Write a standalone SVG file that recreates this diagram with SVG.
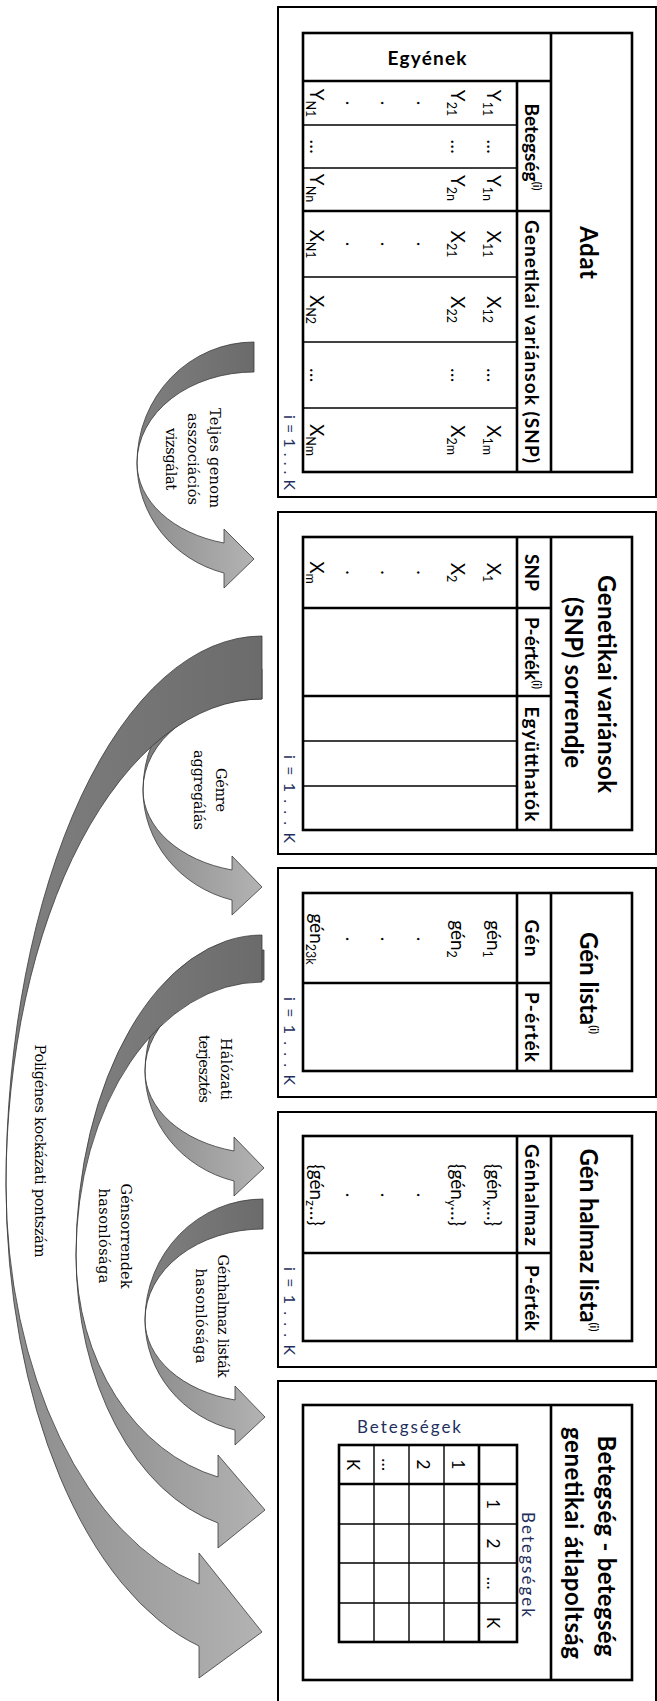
<svg xmlns="http://www.w3.org/2000/svg" width="657" height="1701" viewBox="0 0 657 1701">
  <style>
    .box { fill: #fff; stroke: #000; stroke-width: 2; }
    .tbl { fill: none; stroke: #000; stroke-width: 2.6; }
    .thick { stroke: #000; stroke-width: 2.6; fill: none; }
    .thin { stroke: #000; stroke-width: 1.4; fill: none; }
    text { font-family: Lato, "Noto Sans", "Liberation Sans", sans-serif; fill: #000; text-anchor: middle; }
    .title { font-size: 24px; font-weight: bold; }
    .hdr { font-size: 19px; font-weight: bold; }
    .dat { font-size: 19px; }
    .mx { font-size: 17px; }
    .idx { font-size: 16px; fill: #1f2f5e; text-anchor: end; }
    .blue { fill: #1f2f5e; }
    .lbl { font-family: "DejaVu Serif", "Liberation Serif", serif; font-size: 14.5px; fill: #000; }
    .sub { font-size: 12.5px; }
    .sup { font-size: 11px; }
    .back { fill: url(#gBack); stroke: #3a3a3a; stroke-width: 0.8; }
    .front { fill: url(#gFront); stroke: #3a3a3a; stroke-width: 0.8; }
  </style>
  <defs>
    <linearGradient id="gBack" x1="0" y1="0" x2="1" y2="0">
      <stop offset="0" stop-color="#808080"/>
      <stop offset="1" stop-color="#6b6b6b"/>
    </linearGradient>
    <linearGradient id="gFront" x1="0" y1="0" x2="1" y2="0">
      <stop offset="0" stop-color="#8b8b8b"/>
      <stop offset="1" stop-color="#b3b3b3"/>
    </linearGradient>
  </defs>
  <rect width="657" height="1701" fill="#fff"/>

  <!-- curved block arrows between the stages -->
  <g id="connectors">
    <!-- Génre aggregálás (tail tucked under the large arrow) -->
    <g id="arrow-genre">
      <path class="back" d="M262,669 A119,121 0 0 0 143,790 A119,91 0 0 1 262,699 Z"/>
      <path class="front" d="M143,790 A119,82.7 0 0 0 232,870 L232,856 L262,887 L232,915 L232,900 A119,113.7 0 0 1 143,790 Z"/>
    </g>
    <!-- Poligénes kockázati pontszám -->
    <g id="arrow-poligenes">
      <path class="back" d="M262,636 A256,549 0 0 0 6,1185 A256,486 0 0 1 262,699 Z"/>
      <path class="front" d="M6,1185 A256,411.8 0 0 0 199,1584 L199,1553 L262,1632 L199,1678 L199,1646 A256,475.8 0 0 1 6,1185 Z"/>
    </g>
    <!-- Teljes genom asszociációs vizsgálat -->
    <g id="arrow-gwas">
      <path class="back" d="M254,342 A117,121 0 0 0 137,463 A117,91 0 0 1 254,372 Z"/>
      <path class="front" d="M137,463 A117,82.8 0 0 0 224,543 L224,529 L254,559 L224,588 L224,573 A117,113.8 0 0 1 137,463 Z"/>
    </g>
    <!-- Hálózati terjesztés (tail tucked under the medium arrow) -->
    <g id="arrow-halozati">
      <path class="back" d="M264,950 A119,121 0 0 0 145,1071 A119,91 0 0 1 264,980 Z"/>
      <path class="front" d="M145,1071 A119,82.7 0 0 0 234,1151 L234,1137 L264,1168 L234,1196 L234,1181 A119,113.7 0 0 1 145,1071 Z"/>
    </g>
    <!-- Génsorrendek hasonlósága -->
    <g id="arrow-gensorrend">
      <path class="back" d="M262,935 A186,320 0 0 0 76,1255 A186,273 0 0 1 262,982 Z"/>
      <path class="front" d="M76,1255 A186,228.5 0 0 0 218,1477 L218,1455 L265,1510 L218,1548 L218,1523 A186,275.8 0 0 1 76,1255 Z"/>
    </g>
    <!-- Génhalmaz listák hasonlósága -->
    <g id="arrow-genhalmaz">
      <path class="back" d="M263,1199 A118,121 0 0 0 145,1320 A118,91 0 0 1 263,1229 Z"/>
      <path class="front" d="M145,1320 A118,82.3 0 0 0 235,1400 L235,1386 L265,1417 L235,1445 L235,1430 A118,113.2 0 0 1 145,1320 Z"/>
    </g>

    <!-- arrow captions -->
    <g id="arrow-labels">
      <text class="lbl" transform="translate(210 458) rotate(90)" textLength="100">Teljes genom</text>
      <text class="lbl" transform="translate(188 459) rotate(90)" textLength="92">asszociációs</text>
      <text class="lbl" transform="translate(166 459) rotate(90)" textLength="62">vizsgálat</text>
      <text class="lbl" transform="translate(216 790) rotate(90)" textLength="44">Génre</text>
      <text class="lbl" transform="translate(194 790) rotate(90)" textLength="80">aggregálás</text>
      <text class="lbl" transform="translate(221 1069) rotate(90)" textLength="62">Hálózati</text>
      <text class="lbl" transform="translate(199 1069) rotate(90)" textLength="68">terjesztés</text>
      <text class="lbl" transform="translate(218 1316) rotate(90)" textLength="123">Génhalmaz listák</text>
      <text class="lbl" transform="translate(196 1316) rotate(90)" textLength="95">hasonlósága</text>
      <text class="lbl" transform="translate(121 1236) rotate(90)" textLength="105">Génsorrendek</text>
      <text class="lbl" transform="translate(99 1236) rotate(90)" textLength="95">hasonlósága</text>
      <text class="lbl" transform="translate(35 1151) rotate(90)" textLength="213">Poligénes kockázati pontszám</text>
    </g>
  </g>

  <!-- Stage 1: Adat -->
  <g id="adat">
    <rect class="box" x="278" y="7" width="378" height="490"/>
    <rect class="tbl" x="303" y="33" width="329" height="439"/>
    <line class="thick" x1="551" y1="33" x2="551" y2="472"/>
    <line class="thick" x1="303" y1="81" x2="551" y2="81"/>
    <line class="thick" x1="517" y1="81" x2="517" y2="472"/>
    <line class="thick" x1="303" y1="211" x2="551" y2="211"/>
    <line class="thin" x1="303" y1="125" x2="517" y2="125"/>
    <line class="thin" x1="303" y1="168" x2="517" y2="168"/>
    <line class="thin" x1="303" y1="277" x2="517" y2="277"/>
    <line class="thin" x1="303" y1="342" x2="517" y2="342"/>
    <line class="thin" x1="303" y1="408" x2="517" y2="408"/>
    <text class="title" transform="translate(580 252.5) rotate(90)" textLength="53">Adat</text>
    <text class="hdr" x="427" y="65" textLength="79">Egyének</text>
    <text class="hdr" transform="translate(525 147) rotate(90)">Betegség<tspan class="sup" dy="-8">(i)</tspan></text>
    <text class="hdr" transform="translate(525 341.5) rotate(90)" textLength="243">Genetikai variánsok (SNP)</text>
    <!-- first individual -->
    <text class="dat" transform="translate(487 103) rotate(90)">Y<tspan class="sub" dy="4">11</tspan></text>
    <text class="dat" transform="translate(487 146.5) rotate(90)">…</text>
    <text class="dat" transform="translate(487 188) rotate(90)">Y<tspan class="sub" dy="4">1n</tspan></text>
    <text class="dat" transform="translate(487 244) rotate(90)">X<tspan class="sub" dy="4">11</tspan></text>
    <text class="dat" transform="translate(487 309.5) rotate(90)">X<tspan class="sub" dy="4">12</tspan></text>
    <text class="dat" transform="translate(487 375) rotate(90)">…</text>
    <text class="dat" transform="translate(487 440) rotate(90)">X<tspan class="sub" dy="4">1m</tspan></text>
    <!-- second individual -->
    <text class="dat" transform="translate(451 103) rotate(90)">Y<tspan class="sub" dy="4">21</tspan></text>
    <text class="dat" transform="translate(451 146.5) rotate(90)">…</text>
    <text class="dat" transform="translate(451 188) rotate(90)">Y<tspan class="sub" dy="4">2n</tspan></text>
    <text class="dat" transform="translate(451 244) rotate(90)">X<tspan class="sub" dy="4">21</tspan></text>
    <text class="dat" transform="translate(451 309.5) rotate(90)">X<tspan class="sub" dy="4">22</tspan></text>
    <text class="dat" transform="translate(451 375) rotate(90)">…</text>
    <text class="dat" transform="translate(451 440) rotate(90)">X<tspan class="sub" dy="4">2m</tspan></text>
    <!-- vertical ellipsis dots -->
    <text class="dat" transform="translate(417 103) rotate(90)">.</text>
    <text class="dat" transform="translate(381 103) rotate(90)">.</text>
    <text class="dat" transform="translate(346 103) rotate(90)">.</text>
    <text class="dat" transform="translate(417 244) rotate(90)">.</text>
    <text class="dat" transform="translate(381 244) rotate(90)">.</text>
    <text class="dat" transform="translate(346 244) rotate(90)">.</text>
    <!-- last individual -->
    <text class="dat" transform="translate(310 103) rotate(90)">Y<tspan class="sub" dy="4">N1</tspan></text>
    <text class="dat" transform="translate(310 146.5) rotate(90)">…</text>
    <text class="dat" transform="translate(310 188) rotate(90)">Y<tspan class="sub" dy="4">Nn</tspan></text>
    <text class="dat" transform="translate(310 244) rotate(90)">X<tspan class="sub" dy="4">N1</tspan></text>
    <text class="dat" transform="translate(310 309.5) rotate(90)">X<tspan class="sub" dy="4">N2</tspan></text>
    <text class="dat" transform="translate(310 375) rotate(90)">…</text>
    <text class="dat" transform="translate(310 440) rotate(90)">X<tspan class="sub" dy="4">Nm</tspan></text>
    <text class="idx" transform="translate(284 490) rotate(90)" textLength="75">i = 1 . . . K</text>
  </g>

  <!-- Stage 2: SNP ranking -->
  <g id="snp-sorrend">
    <rect class="box" x="278" y="512" width="378" height="342"/>
    <rect class="tbl" x="303" y="537" width="329" height="293"/>
    <line class="thick" x1="551" y1="537" x2="551" y2="830"/>
    <line class="thick" x1="517" y1="537" x2="517" y2="830"/>
    <line class="thick" x1="303" y1="608" x2="551" y2="608"/>
    <line class="thick" x1="303" y1="696" x2="551" y2="696"/>
    <line class="thin" x1="303" y1="741" x2="517" y2="741"/>
    <line class="thin" x1="303" y1="786" x2="517" y2="786"/>
    <text class="title" transform="translate(598 684) rotate(90)" textLength="218">Genetikai variánsok</text>
    <text class="title" transform="translate(565 682.5) rotate(90)" textLength="171">(SNP) sorrendje</text>
    <text class="hdr" transform="translate(525 572.5) rotate(90)" textLength="37">SNP</text>
    <text class="hdr" transform="translate(525 653) rotate(90)">P-érték<tspan class="sup" dy="-8">(i)</tspan></text>
    <text class="hdr" transform="translate(525 764) rotate(90)" textLength="115">Együtthatók</text>
    <text class="dat" transform="translate(487 572.5) rotate(90)">X<tspan class="sub" dy="4">1</tspan></text>
    <text class="dat" transform="translate(451 572.5) rotate(90)">X<tspan class="sub" dy="4">2</tspan></text>
    <text class="dat" transform="translate(417 572.5) rotate(90)">.</text>
    <text class="dat" transform="translate(381 572.5) rotate(90)">.</text>
    <text class="dat" transform="translate(346 572.5) rotate(90)">.</text>
    <text class="dat" transform="translate(310 572.5) rotate(90)">X<tspan class="sub" dy="4">m</tspan></text>
    <text class="idx" transform="translate(284 843) rotate(90)" textLength="88">i = 1 . . . K</text>
  </g>

  <!-- Stage 3: gene list -->
  <g id="gen-lista">
    <rect class="box" x="278" y="868" width="378" height="229"/>
    <rect class="tbl" x="303" y="893" width="329" height="178"/>
    <line class="thick" x1="551" y1="893" x2="551" y2="1071"/>
    <line class="thick" x1="517" y1="893" x2="517" y2="1071"/>
    <line class="thick" x1="303" y1="983" x2="551" y2="983"/>
    <text class="title" transform="translate(580 983) rotate(90)">Gén lista<tspan class="sup" dy="-10">(i)</tspan></text>
    <text class="hdr" transform="translate(525 938) rotate(90)" textLength="37">Gén</text>
    <text class="hdr" transform="translate(525 1027) rotate(90)" textLength="70">P-érték</text>
    <text class="dat" transform="translate(487 939) rotate(90)">gén<tspan class="sub" dy="4">1</tspan></text>
    <text class="dat" transform="translate(451 939) rotate(90)">gén<tspan class="sub" dy="4">2</tspan></text>
    <text class="dat" transform="translate(417 939) rotate(90)">.</text>
    <text class="dat" transform="translate(381 939) rotate(90)">.</text>
    <text class="dat" transform="translate(346 939) rotate(90)">.</text>
    <text class="dat" transform="translate(310 939) rotate(90)">gén<tspan class="sub" dy="4">23k</tspan></text>
    <text class="idx" transform="translate(284 1085) rotate(90)" textLength="88">i = 1 . . . K</text>
  </g>

  <!-- Stage 4: gene set list -->
  <g id="genhalmaz-lista">
    <rect class="box" x="278" y="1112" width="378" height="255"/>
    <rect class="tbl" x="303" y="1136" width="329" height="205"/>
    <line class="thick" x1="551" y1="1136" x2="551" y2="1341"/>
    <line class="thick" x1="517" y1="1136" x2="517" y2="1341"/>
    <line class="thick" x1="303" y1="1253" x2="551" y2="1253"/>
    <text class="title" transform="translate(580 1240) rotate(90)">Gén halmaz lista<tspan class="sup" dy="-10">(i)</tspan></text>
    <text class="hdr" transform="translate(525 1195) rotate(90)" textLength="102">Génhalmaz</text>
    <text class="hdr" transform="translate(525 1298) rotate(90)" textLength="66">P-érték</text>
    <text class="dat" transform="translate(487 1195) rotate(90)">{gén<tspan class="sub" dy="4">x</tspan><tspan dy="-4">…}</tspan></text>
    <text class="dat" transform="translate(451 1195) rotate(90)">{gén<tspan class="sub" dy="4">y</tspan><tspan dy="-4">…}</tspan></text>
    <text class="dat" transform="translate(417 1195) rotate(90)">.</text>
    <text class="dat" transform="translate(381 1195) rotate(90)">.</text>
    <text class="dat" transform="translate(346 1195) rotate(90)">.</text>
    <text class="dat" transform="translate(310 1195) rotate(90)">{gén<tspan class="sub" dy="4">z</tspan><tspan dy="-4">…}</tspan></text>
    <text class="idx" transform="translate(284 1355) rotate(90)" textLength="88">i = 1 . . . K</text>
  </g>

  <!-- Stage 5: disease-disease genetic overlap -->
  <g id="atlapoltsag">
    <rect class="box" x="278" y="1381" width="378" height="340"/>
    <rect class="tbl" x="303" y="1405" width="329" height="275"/>
    <line class="thick" x1="551" y1="1405" x2="551" y2="1680"/>
    <text class="title" transform="translate(598 1546) rotate(90)" textLength="221">Betegség - betegség</text>
    <text class="title" transform="translate(565 1543) rotate(90)" textLength="232">genetikai átlapoltság</text>
    <text class="mx blue" x="409" y="1433" textLength="104">Betegségek</text>
    <text class="mx blue" transform="translate(522 1564.5) rotate(90)" textLength="105">Betegségek</text>
    <!-- K x K matrix -->
    <rect class="tbl" x="339" y="1445" width="178" height="197"/>
    <line class="thick" x1="479" y1="1445" x2="479" y2="1642"/>
    <line class="thick" x1="339" y1="1484" x2="517" y2="1484"/>
    <line class="thin" x1="374" y1="1445" x2="374" y2="1642"/>
    <line class="thin" x1="409" y1="1445" x2="409" y2="1642"/>
    <line class="thin" x1="444" y1="1445" x2="444" y2="1642"/>
    <line class="thin" x1="339" y1="1524" x2="517" y2="1524"/>
    <line class="thin" x1="339" y1="1563" x2="517" y2="1563"/>
    <line class="thin" x1="339" y1="1603" x2="517" y2="1603"/>
    <text class="mx" transform="translate(452 1464.5) rotate(90)">1</text>
    <text class="mx" transform="translate(417 1464.5) rotate(90)">2</text>
    <text class="mx" transform="translate(382 1464.5) rotate(90)">…</text>
    <text class="mx" transform="translate(347 1464.5) rotate(90)">K</text>
    <text class="mx" transform="translate(487 1504) rotate(90)">1</text>
    <text class="mx" transform="translate(487 1543.5) rotate(90)">2</text>
    <text class="mx" transform="translate(487 1583) rotate(90)">…</text>
    <text class="mx" transform="translate(487 1622.5) rotate(90)">K</text>
  </g>
</svg>
